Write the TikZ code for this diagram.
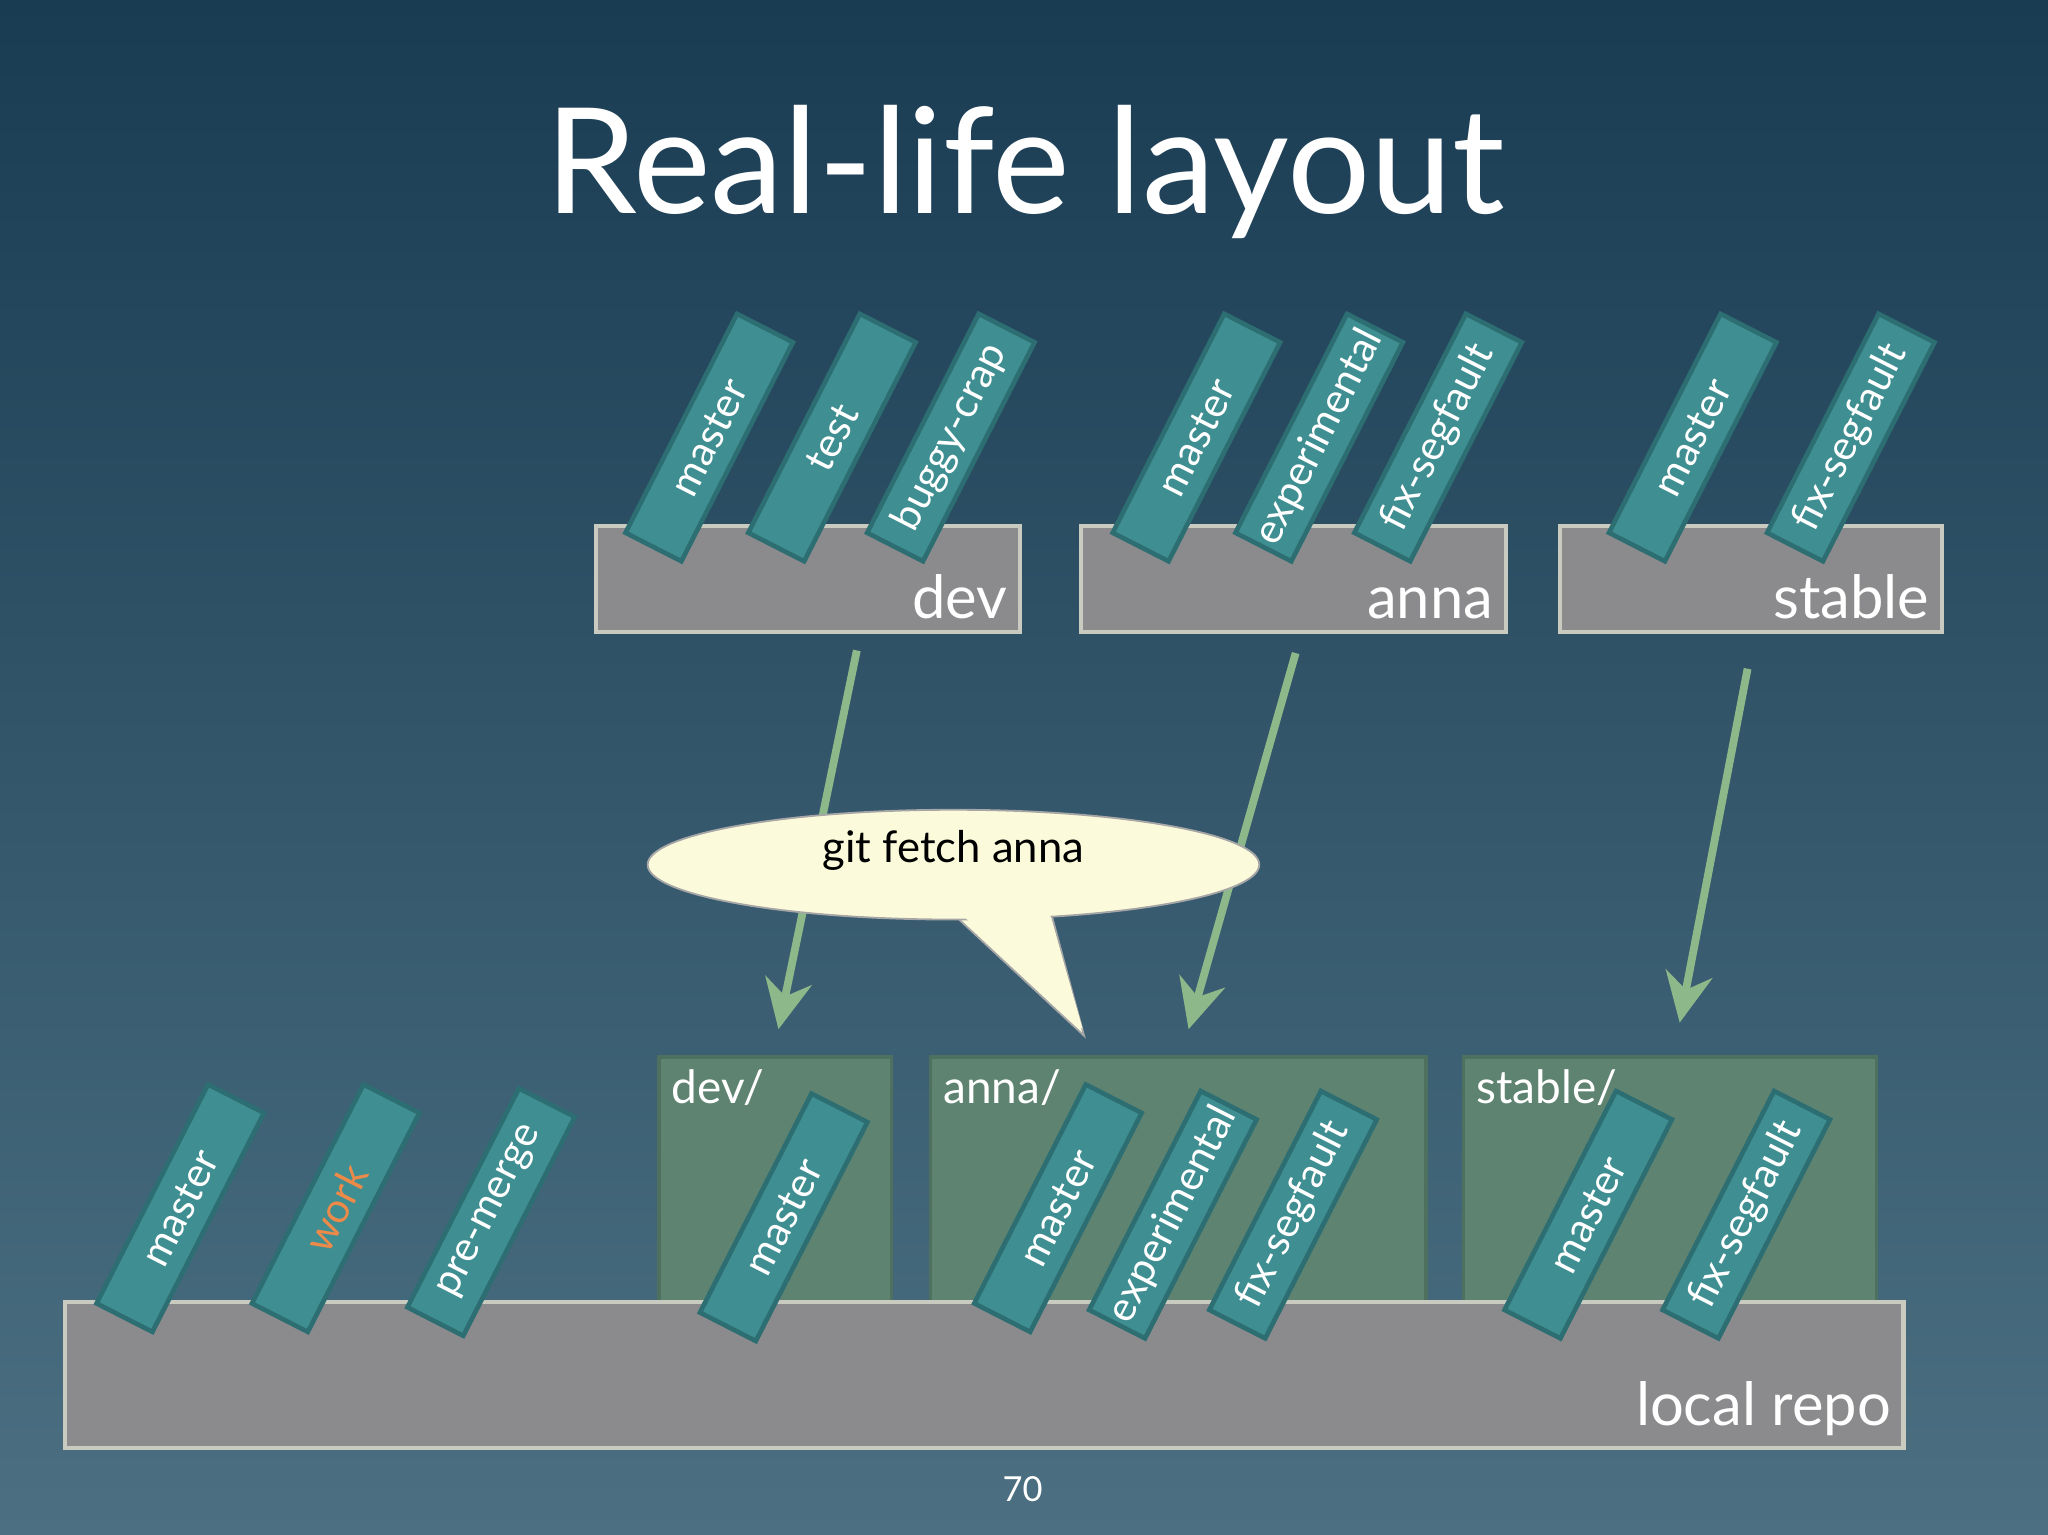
\documentclass[tikz,border=0pt]{standalone}
\usepackage{fontspec}
\setmainfont{Lato}
\usetikzlibrary{arrows.meta,shapes.geometric}
\definecolor{bgtop}{HTML}{1A3C53}
\definecolor{bgbot}{HTML}{4C7082}
\definecolor{tagf}{HTML}{3F8E91}
\definecolor{tagd}{HTML}{2C6E72}
\definecolor{repof}{HTML}{8B8B8D}
\definecolor{repod}{HTML}{C9CBC0}
\definecolor{grf}{HTML}{5F8371}
\definecolor{grd}{HTML}{4E705F}
\definecolor{arr}{HTML}{8DB98A}
\definecolor{bub}{HTML}{FBFBDC}
\definecolor{wk}{HTML}{EC8A4A}
\tikzset{
 tag/.style={draw=tagd,fill=tagf,line width=1pt,rotate=63,minimum width=1.88cm,minimum height=0.48cm,inner sep=0pt,text=white,font=\fontsize{9}{11}\selectfont},
 repo/.style={draw=repod,fill=repof,line width=0.9pt},
 rlabel/.style={text=white,font=\fontsize{13}{16}\selectfont,anchor=south east,inner sep=3pt},
 grp/.style={draw=grd,fill=grf,line width=0.8pt},
 glabel/.style={text=white,font=\fontsize{10}{12}\selectfont,anchor=north west,inner sep=3pt},
 fetch/.style={draw=arr,line width=1.7pt,-{Stealth[length=0.38cm,width=0.36cm]}},
}
\begin{document}
\begin{tikzpicture}[x=0.01cm,y=-0.01cm]
\shade[top color=bgtop,bottom color=bgbot] (0,0) rectangle (1568,1175);
\node[text=white,font=\fontsize{32}{38}\selectfont] (title) at (785,132) {Real-life layout};
% remote repos
\node[repo,minimum width=3.24cm,minimum height=0.81cm,anchor=north west] (dev) at (455,401) {};
\node[repo,minimum width=3.25cm,minimum height=0.81cm,anchor=north west] (anna) at (826,401) {};
\node[repo,minimum width=2.92cm,minimum height=0.81cm,anchor=north west] (stable) at (1193,401) {};
\node[rlabel] (devl) at (dev.south east) {dev};
\node[rlabel] (annal) at (anna.south east) {anna};
\node[rlabel] (stablel) at (stable.south east) {stable};
\node[tag] (t1) at (543,335) {master};
\node[tag] (t2) at (637,335) {test};
\node[tag] (t3) at (728,335) {buggy-crap};
\node[tag] (t4) at (916,335) {master};
\node[tag] (t5) at (1010,335) {experimental};
\node[tag] (t6) at (1101,335) {fix-segfault};
\node[tag] (t7) at (1296,335) {master};
\node[tag] (t8) at (1417,335) {fix-segfault};
% local repo
\node[grp,minimum width=1.78cm,minimum height=1.87cm,anchor=north west] (gdev) at (503,808) {};
\node[grp,minimum width=3.79cm,minimum height=1.87cm,anchor=north west] (ganna) at (711,808) {};
\node[grp,minimum width=3.16cm,minimum height=1.87cm,anchor=north west] (gstable) at (1119,808) {};
\node[glabel] (gdevl) at (gdev.north west) {dev/};
\node[glabel] (gannal) at (ganna.north west) {anna/};
\node[glabel] (gstablel) at (gstable.north west) {stable/};
\node[repo,minimum width=14.07cm,minimum height=1.12cm,anchor=north west] (local) at (48,995) {};
\node[rlabel] (locall) at (local.south east) {local repo};
\node[tag] (b1) at (138,925) {master};
\node[tag] (b2) at (257,925) {\textcolor{wk}{work}};
\node[tag] (b3) at (376,928) {pre-merge};
\node[tag] (b4) at (600,932) {master};
\node[tag] (b5) at (810,925) {master};
\node[tag] (b6) at (898,930) {experimental};
\node[tag] (b7) at (990,930) {fix-segfault};
\node[tag] (b8) at (1216,930) {master};
\node[tag] (b9) at (1337,930) {fix-segfault};
% arrows
\coordinate (a1s) at (656,498); \coordinate (a1e) at (596,788);
\coordinate (a2s) at (992,500); \coordinate (a2e) at (910,788);
\coordinate (a3s) at (1338,512); \coordinate (a3e) at (1286,783);
\draw[fetch] (a1s) -- (a1e);
\draw[fetch] (a2s) -- (a2e);
\draw[fetch] (a3s) -- (a3e);
% callout
\coordinate (p1) at (730,700); \coordinate (p2) at (830,793); \coordinate (p3) at (805,700);
\draw[draw=gray!70,fill=bub,line width=0.4pt] (p1) -- (p2) -- (p3);
\node[ellipse,draw=gray!70,fill=bub,line width=0.4pt,minimum width=4.68cm,minimum height=0.84cm,inner sep=0pt] (bubble) at (730,662) {};
\fill[bub] (733,697) -- (829,788) -- (803,697) -- cycle;
\node[font=\fontsize{9.5}{12}\selectfont,text=black] (cmd) at (730,651) {git fetch anna};
\node[text=white,font=\fontsize{7.5}{10}\selectfont] (pg) at (783,1140) {70};
\end{tikzpicture}
\end{document}
